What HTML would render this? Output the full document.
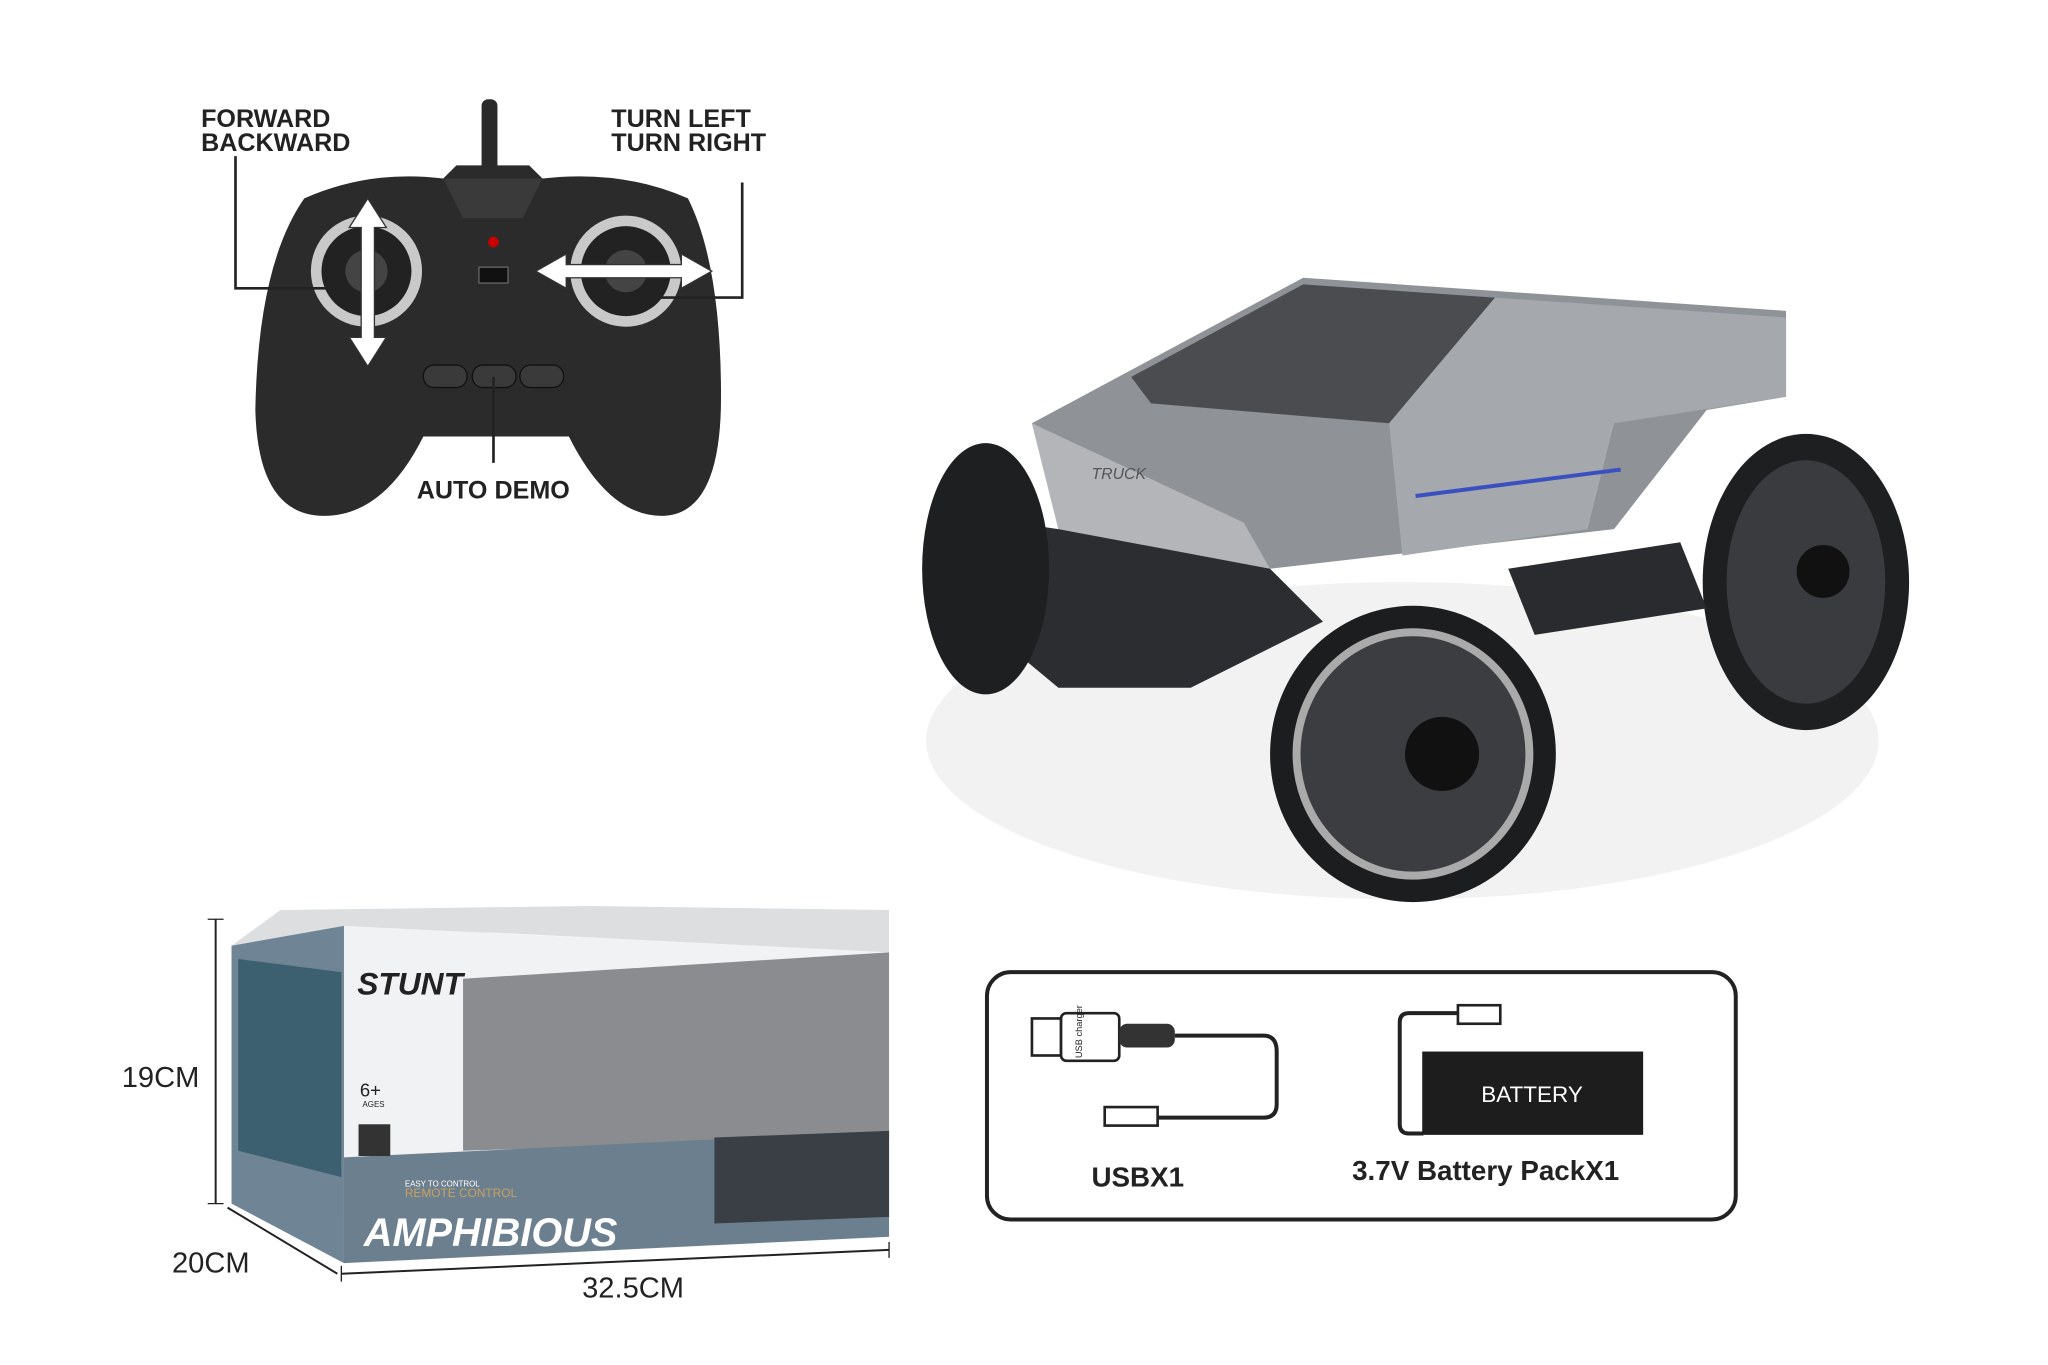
<!DOCTYPE html>
<html><head><meta charset="utf-8"><style>
html,body{margin:0;padding:0;background:#fff;}
svg{display:block;}
text{font-family:"Liberation Sans",sans-serif;}
</style></head><body>
<svg width="2048" height="1365" viewBox="0 0 1548 1032" preserveAspectRatio="none" xmlns="http://www.w3.org/2000/svg">
<rect width="1548" height="1032" fill="#fff"/>
<!-- Remote -->
<rect x="364" y="75" width="12" height="60" rx="5" fill="#2a2a2a"/>
<path d="M230,150 Q280,128 335,135 L345,125 L400,125 L410,135 Q470,128 520,150 Q545,200 545,300 Q545,390 500,390 Q460,390 430,330 L320,330 Q290,390 245,390 Q195,390 193,310 Q195,200 230,150 Z" fill="#2b2b2c"/>
<path d="M335,135 L410,135 L395,165 L350,165 Z" fill="#3a3a3b"/>
<circle cx="277" cy="205" r="42" fill="#c9c9c9"/><circle cx="277" cy="205" r="34" fill="#222"/><circle cx="277" cy="205" r="16" fill="#444"/>
<circle cx="473" cy="205" r="42" fill="#c9c9c9"/><circle cx="473" cy="205" r="34" fill="#222"/><circle cx="473" cy="205" r="16" fill="#444"/>
<circle cx="373" cy="183" r="4" fill="#c00"/>
<rect x="362" y="202" width="22" height="12" fill="#111" stroke="#666"/>
<rect x="320" y="276" width="33" height="17" rx="8" fill="#3a3a3a" stroke="#111"/>
<rect x="357" y="276" width="33" height="17" rx="8" fill="#3a3a3a" stroke="#111"/>
<rect x="393" y="276" width="33" height="17" rx="8" fill="#3a3a3a" stroke="#111"/>
<!-- arrows -->
<path d="M278,150 L264,172 L273,172 L273,255 L264,255 L278,277 L292,255 L283,255 L283,172 L292,172 Z" fill="#fff" stroke="#333"/>
<path d="M405,205 L428,192 L428,200 L515,200 L515,192 L538,205 L515,218 L515,210 L428,210 L428,218 Z" fill="#fff" stroke="#333"/>
<path d="M178,118 L178,218 L250,218" fill="none" stroke="#222" stroke-width="2"/>
<path d="M561,138 L561,225 L470,225" fill="none" stroke="#222" stroke-width="2"/>
<line x1="373" y1="285" x2="373" y2="350" stroke="#222" stroke-width="2"/>
<text x="152" y="96" font-size="19" font-weight="bold" fill="#222">FORWARD</text>
<text x="152" y="114" font-size="19" font-weight="bold" fill="#222">BACKWARD</text>
<text x="462" y="96" font-size="19" font-weight="bold" fill="#222">TURN LEFT</text>
<text x="462" y="114" font-size="19" font-weight="bold" fill="#222">TURN RIGHT</text>
<text x="315" y="377" font-size="19" font-weight="bold" fill="#222">AUTO DEMO</text>
<!-- Truck -->
<ellipse cx="1060" cy="560" rx="360" ry="120" fill="#f2f2f2"/>
<path d="M780,320 L985,210 L1350,235 L1350,300 L1290,310 L1220,400 L960,430 L800,400 Z" fill="#8f9296"/>
<path d="M855,285 L985,215 L1130,225 L1050,320 L870,305 Z" fill="#4a4c50"/>
<path d="M1050,320 L1130,225 L1350,240 L1350,300 L1220,320 L1200,400 L1060,420 Z" fill="#a5a8ac"/>
<path d="M780,320 L940,395 L960,430 L800,400 Z" fill="#b3b5b9"/>
<path d="M730,390 L800,400 L960,430 L1000,470 L900,520 L800,520 L740,470 Z" fill="#2c2d30"/>
<line x1="1070" y1="375" x2="1225" y2="355" stroke="#3a4fc0" stroke-width="3"/>
<text x="825" y="362" font-size="12" font-style="italic" fill="#555">TRUCK</text>
<ellipse cx="745" cy="430" rx="48" ry="95" fill="#1e1f21"/>
<ellipse cx="1365" cy="440" rx="78" ry="112" fill="#1e1f21"/>
<ellipse cx="1365" cy="440" rx="60" ry="92" fill="#3a3b3e"/>
<circle cx="1378" cy="432" r="20" fill="#111"/>
<ellipse cx="1068" cy="570" rx="108" ry="112" fill="#1c1d1f"/>
<ellipse cx="1068" cy="570" rx="88" ry="92" fill="#3c3d40" stroke="#aaa" stroke-width="6"/>
<circle cx="1090" cy="570" r="28" fill="#111"/>
<path d="M1140,430 L1270,410 L1290,460 L1160,480 Z" fill="#2a2b2e"/>
<!-- Box -->
<path d="M175,715 L212,688 L445,685 L672,688 L672,720 L370,705 Z" fill="#dcdedf"/>
<path d="M175,715 L260,700 L260,955 L175,910 Z" fill="#6f8495"/>
<path d="M180,725 L258,735 L258,890 L180,870 Z" fill="#3c6070"/>
<path d="M260,700 L672,720 L672,935 L260,955 Z" fill="#f1f2f3"/>
<path d="M350,740 L672,720 L672,860 L350,870 Z" fill="#8a8c8f"/>
<path d="M260,875 L672,855 L672,935 L260,955 Z" fill="#6c7f8f"/>
<path d="M540,860 L672,855 L672,920 L540,925 Z" fill="#3a3f46"/>
<text x="270" y="752" font-size="24" font-weight="bold" font-style="italic" fill="#222">STUNT</text>
<text x="272" y="829" font-size="14" fill="#222">6+</text>
<text x="274" y="837" font-size="6" fill="#222">AGES</text>
<rect x="271" y="850" width="24" height="24" fill="#333"/>
<text x="306" y="897" font-size="6" fill="#fff">EASY TO CONTROL</text>
<text x="306" y="905" font-size="9" fill="#c8a060">REMOTE CONTROL</text>
<text x="275" y="942" font-size="30" font-weight="bold" font-style="italic" fill="#fff">AMPHIBIOUS</text>
<!-- dimension lines -->
<line x1="163" y1="695" x2="163" y2="910" stroke="#222" stroke-width="1.5"/>
<line x1="157" y1="695" x2="169" y2="695" stroke="#222"/><line x1="157" y1="910" x2="169" y2="910" stroke="#222"/>
<line x1="172" y1="913" x2="255" y2="963" stroke="#222" stroke-width="1.5"/>
<line x1="258" y1="963" x2="672" y2="945" stroke="#222" stroke-width="1.5"/>
<line x1="258" y1="957" x2="258" y2="969" stroke="#222"/><line x1="672" y1="939" x2="672" y2="951" stroke="#222"/>
<text x="92" y="822" font-size="22" font-family="Liberation Mono" fill="#222">19CM</text>
<text x="130" y="962" font-size="22" font-family="Liberation Mono" fill="#222">20CM</text>
<text x="440" y="981" font-size="22" font-family="Liberation Mono" fill="#222">32.5CM</text>
<!-- accessories -->
<rect x="746" y="735" width="566" height="187" rx="18" fill="#fff" stroke="#222" stroke-width="3"/>
<rect x="780" y="770" width="22" height="28" fill="#fff" stroke="#222" stroke-width="2"/>
<rect x="802" y="766" width="44" height="36" rx="4" fill="#fff" stroke="#222" stroke-width="2"/>
<text x="0" y="0" font-size="7" fill="#222" transform="translate(818,800) rotate(-90)">USB charger</text>
<rect x="846" y="774" width="42" height="18" rx="6" fill="#333"/>
<path d="M888,783 L955,783 Q965,783 965,795 L965,835 Q965,845 955,845 L875,845" fill="none" stroke="#222" stroke-width="3"/>
<rect x="835" y="837" width="40" height="14" fill="#fff" stroke="#222" stroke-width="2"/>
<text x="825" y="897" font-size="21" font-weight="bold" fill="#222">USBX1</text>
<path d="M1102,766 L1065,766 Q1058,766 1058,773 L1058,850 Q1058,857 1065,857 L1076,857" fill="none" stroke="#222" stroke-width="3"/>
<rect x="1102" y="760" width="32" height="14" fill="#fff" stroke="#222" stroke-width="2"/>
<rect x="1075" y="795" width="167" height="63" fill="#1d1d1d"/>
<text x="1158" y="833" font-size="17" fill="#fff" text-anchor="middle">BATTERY</text>
<text x="1022" y="892" font-size="21" font-weight="bold" fill="#222">3.7V Battery PackX1</text>
</svg>
</body></html>
